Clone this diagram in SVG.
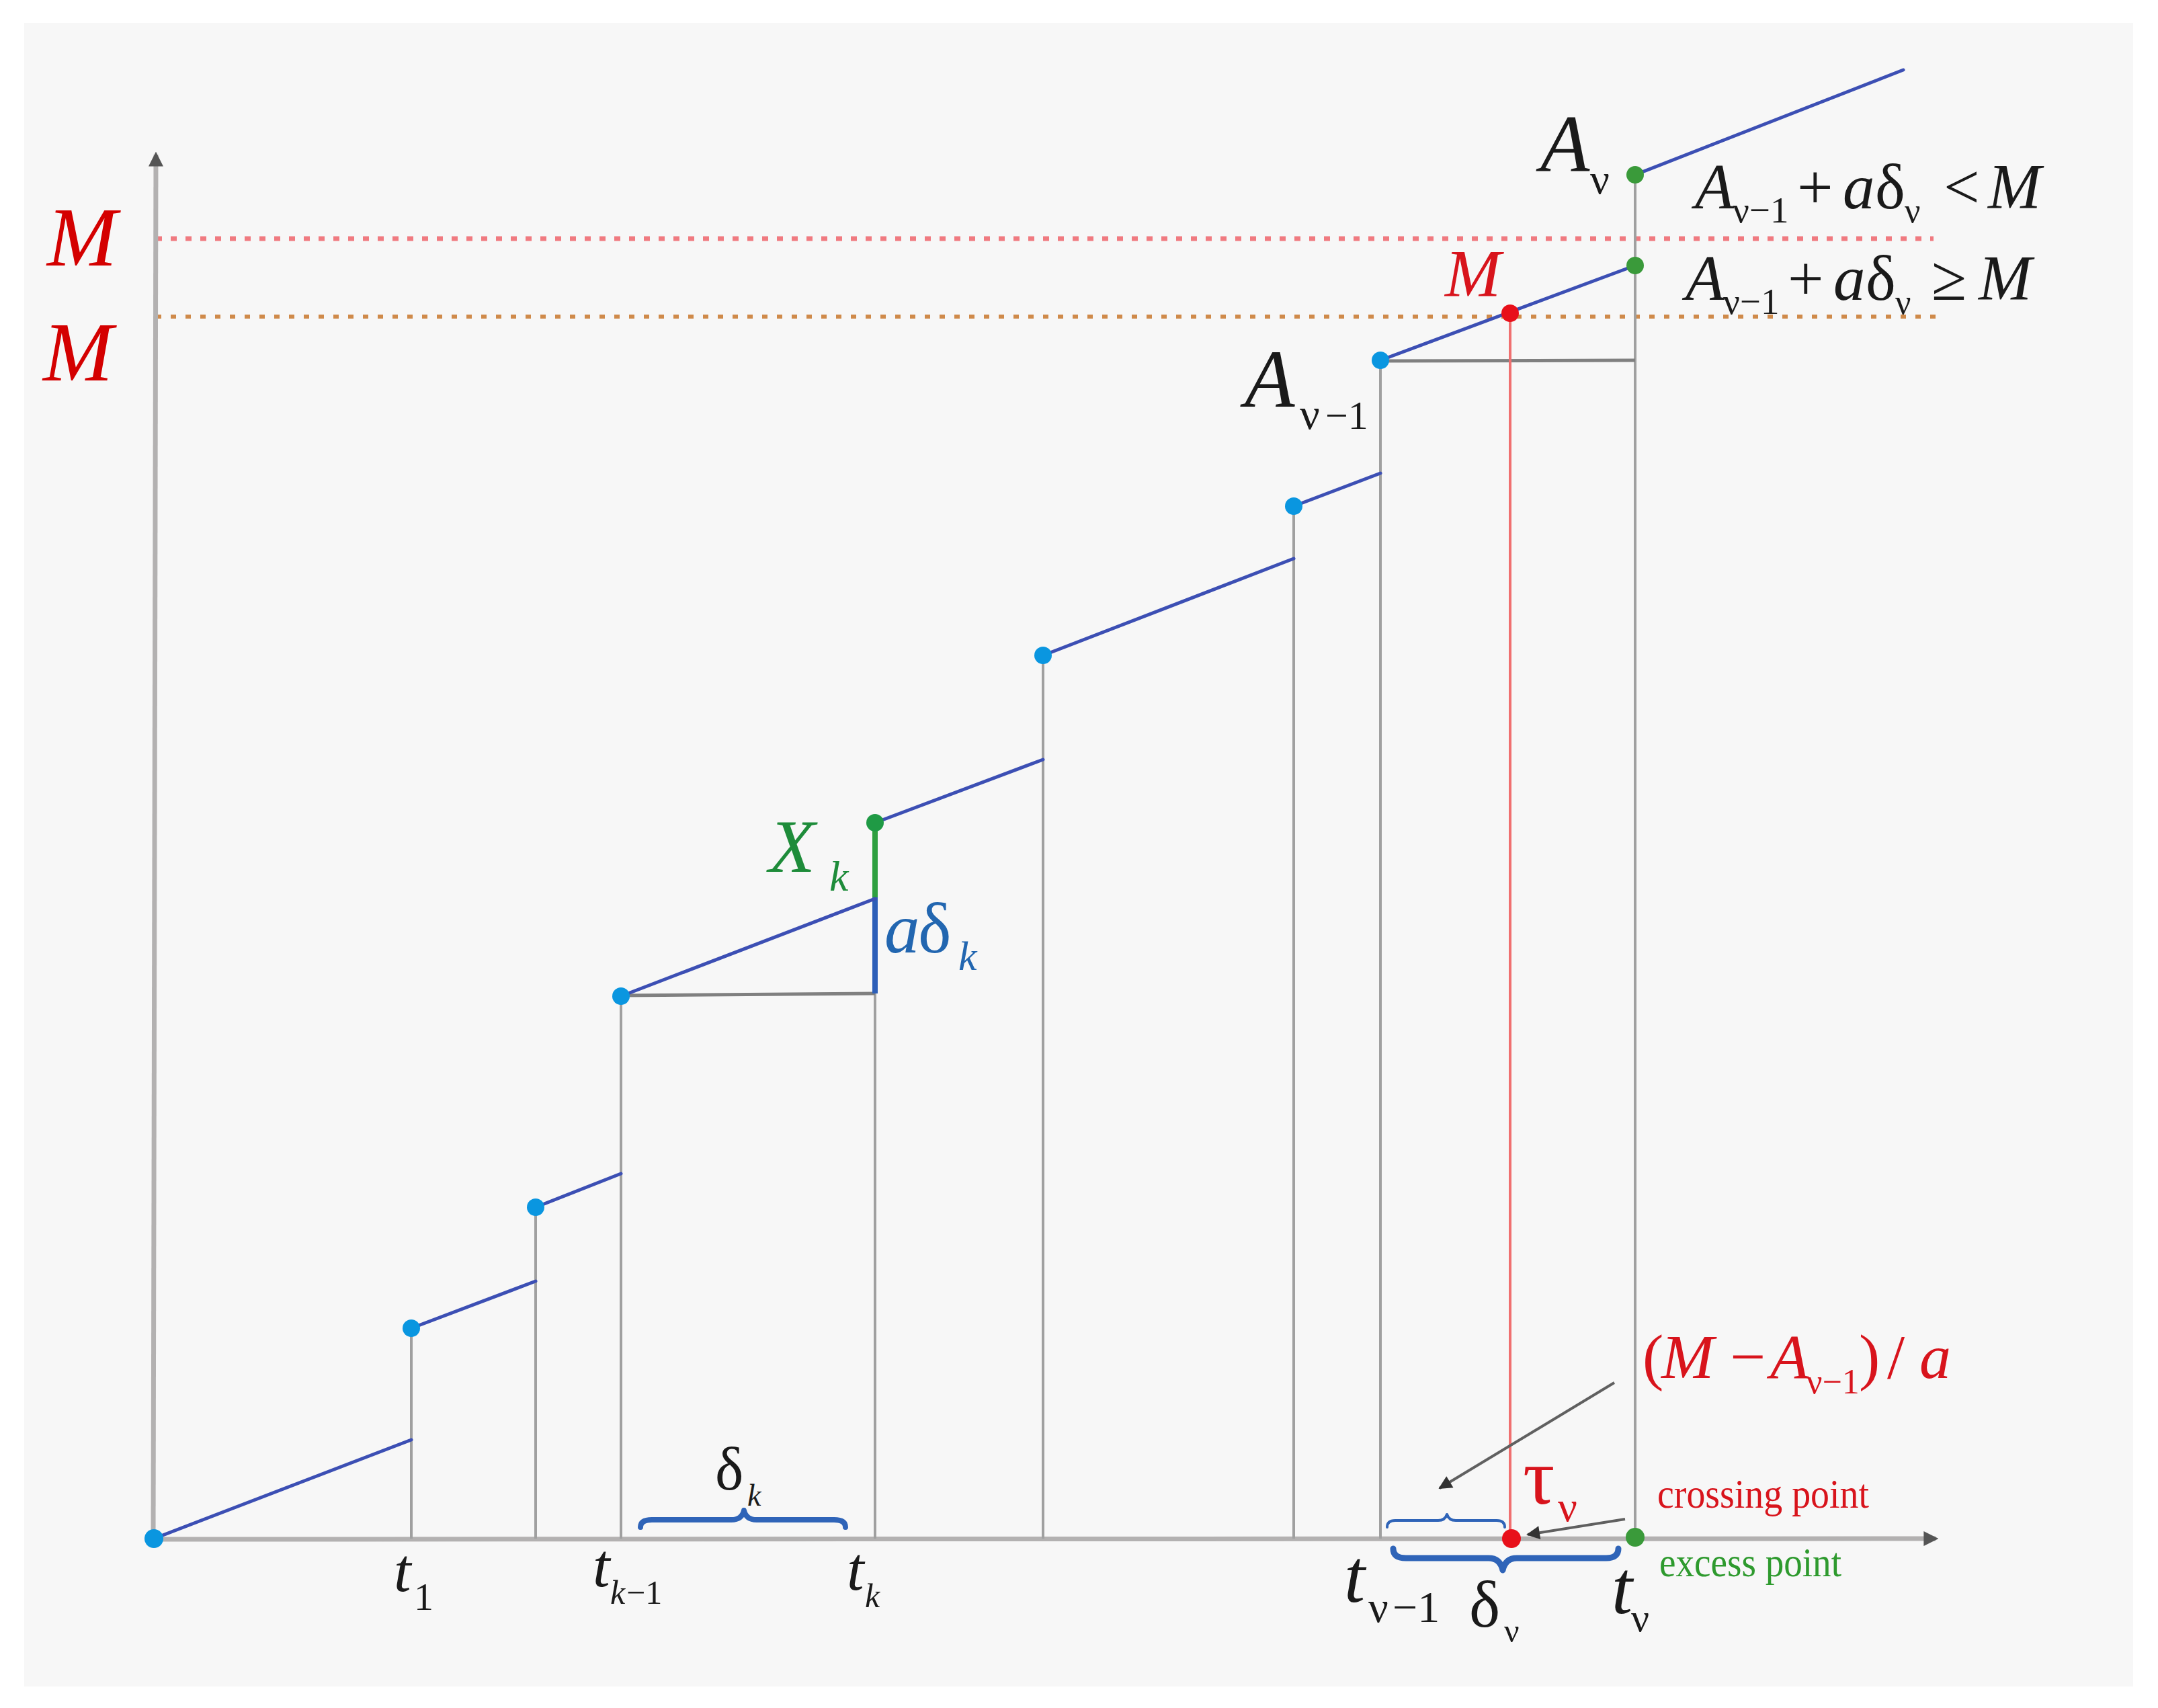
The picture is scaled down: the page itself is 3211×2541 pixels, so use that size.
<svg xmlns="http://www.w3.org/2000/svg" width="3211" height="2541" viewBox="0 0 3211 2541">
<style>
.s{font-family:"Liberation Serif","Times New Roman",serif}
.i{font-style:italic}
.k{fill:#1a1a1a}
.r{fill:#d8141c}
.g{fill:#1e8c3a}
.b{fill:#2266b0}
.grid{stroke:#a0a0a0;stroke-width:4;fill:none}
.hz{stroke:#808080;stroke-width:5;fill:none}
.seg{stroke:#3c4fb4;stroke-width:5;fill:none;stroke-linecap:round}
.ax{stroke:#b3b1b1;stroke-width:7;fill:none}
.dotb{fill:#0a96e0}
.dotg{fill:#3a9a3a}
.dotr{fill:#e8101a}
.brace{fill:none;stroke:#2f64b8;stroke-linecap:round;stroke-linejoin:round}
.ptr{stroke:#606060;stroke-width:4;fill:none}
</style>
<defs>
<marker id="axhead" viewBox="0 0 10 10" refX="8" refY="5" markerWidth="22" markerHeight="22" markerUnits="userSpaceOnUse" orient="auto">
<path d="M0,0 L10,5 L0,10 z" fill="#555"/>
</marker>
<marker id="ptrhead" viewBox="0 0 10 10" refX="9" refY="5" markerWidth="24" markerHeight="20" markerUnits="userSpaceOnUse" orient="auto">
<path d="M0,0 L10,5 L0,10 z" fill="#333"/>
</marker>
</defs>
<rect x="0" y="0" width="3211" height="2541" fill="#ffffff"/>
<rect x="36" y="34" width="3138" height="2475" fill="#f7f7f7"/>

<g id="thresholds">
<line x1="232" y1="355" x2="2877" y2="355" stroke="#f07a80" stroke-width="7" stroke-dasharray="9 13"/>
<line x1="232" y1="471" x2="2884" y2="471" stroke="#cf8a4a" stroke-width="6" stroke-dasharray="8 14"/>
</g>

<g id="axes">
<line class="ax" x1="228" y1="2290" x2="2880" y2="2289" marker-end="url(#axhead)"/>
<line class="ax" x1="228" y1="2290" x2="232" y2="230" marker-end="url(#axhead)"/>
</g>

<g id="verticals">
<line class="grid" x1="612" y1="2289" x2="612" y2="1976"/>
<line class="grid" x1="797" y1="2289" x2="797" y2="1796"/>
<line class="grid" x1="924" y1="2289" x2="924" y2="1482"/>
<line class="grid" x1="1302" y1="2289" x2="1302" y2="1478"/>
<line class="grid" x1="1552" y1="2289" x2="1552" y2="975"/>
<line class="grid" x1="1925" y1="2289" x2="1925" y2="753"/>
<line class="grid" x1="2054" y1="2289" x2="2054" y2="536"/>
<line class="grid" x1="2433" y1="2289" x2="2433" y2="260"/>
<line class="hz" x1="924" y1="1481" x2="1302" y2="1478"/>
<line class="hz" x1="2054" y1="537" x2="2433" y2="536"/>
<line x1="2247" y1="466" x2="2247" y2="2289" stroke="#f07070" stroke-width="4"/>
<line x1="1302" y1="1335" x2="1302" y2="1478" stroke="#2d5fb8" stroke-width="8"/>
<line x1="1302" y1="1226" x2="1302" y2="1335" stroke="#2ea040" stroke-width="8"/>
</g>

<g id="segments">
<line class="seg" x1="229" y1="2289" x2="612" y2="2142"/>
<line class="seg" x1="612" y1="1976" x2="797" y2="1906"/>
<line class="seg" x1="797" y1="1796" x2="924" y2="1746"/>
<line class="seg" x1="924" y1="1482" x2="1302" y2="1337"/>
<line class="seg" x1="1302" y1="1224" x2="1552" y2="1130"/>
<line class="seg" x1="1552" y1="975" x2="1925" y2="831"/>
<line class="seg" x1="1925" y1="753" x2="2054" y2="704"/>
<line class="seg" x1="2054" y1="536" x2="2433" y2="395"/>
<line class="seg" x1="2433" y1="260" x2="2832" y2="104"/>
</g>

<g id="points">
<circle class="dotb" cx="229" cy="2289" r="14"/>
<circle class="dotb" cx="612" cy="1976" r="13"/>
<circle class="dotb" cx="797" cy="1796" r="13"/>
<circle class="dotb" cx="924" cy="1482" r="13"/>
<circle class="dotb" cx="1552" cy="975" r="13"/>
<circle class="dotb" cx="1925" cy="753" r="13"/>
<circle class="dotb" cx="2054" cy="536" r="13"/>
<circle cx="1302" cy="1224" r="13" fill="#1f9a45"/>
<circle class="dotg" cx="2433" cy="395" r="13"/>
<circle class="dotg" cx="2433" cy="260" r="13"/>
<circle class="dotg" cx="2433" cy="2287" r="14"/>
<circle class="dotr" cx="2247" cy="466" r="13"/>
<circle class="dotr" cx="2249" cy="2289" r="14"/>
</g>

<g id="braces">
<path class="brace" stroke-width="8" d="M953,2272 Q953,2261 970,2261 L1088,2261 Q1104,2261 1107,2247 Q1110,2261 1126,2261 L1241,2261 Q1258,2261 1258,2272"/>
<path class="brace" stroke="#6a98dc" stroke-width="4" d="M2064,2272 Q2064,2262 2076,2262 L2140,2262 Q2150,2262 2153,2253 Q2156,2262 2166,2262 L2227,2262 Q2239,2262 2239,2272"/>
<path class="brace" stroke-width="9" d="M2073,2304 Q2073,2318 2092,2318 L2215,2318 Q2232,2318 2236,2336 Q2240,2318 2257,2318 L2390,2318 Q2408,2318 2408,2304"/>
</g>

<g id="pointers">
<line class="ptr" x1="2402" y1="2057" x2="2142" y2="2214" marker-end="url(#ptrhead)"/>
<line class="ptr" x1="2418" y1="2260" x2="2273" y2="2283" marker-end="url(#ptrhead)"/>
</g>

<g id="labels">
<text class="s i" x="70" y="395" font-size="125" fill="#d40000">M</text>
<text class="s i" x="64" y="566" font-size="125" fill="#d40000">M</text>
<text class="s i r" x="2150" y="440" font-size="100">M</text>

<text class="s k"><tspan class="i" x="2292" y="255" font-size="120">A</tspan><tspan x="2366" y="288" font-size="64">ν</tspan></text>

<text class="s k"><tspan class="i" x="2522" y="310" font-size="95">A</tspan><tspan x="2578" y="331" font-size="55">ν−1</tspan><tspan x="2674" y="310" font-size="95">+</tspan><tspan class="i" x="2742" y="310" font-size="95">a</tspan><tspan x="2790" y="310" font-size="95">δ</tspan><tspan x="2834" y="331" font-size="52">ν</tspan><tspan x="2892" y="310" font-size="95">&lt;</tspan><tspan class="i" x="2958" y="310" font-size="95">M</tspan></text>

<text class="s k"><tspan class="i" x="2508" y="446" font-size="95">A</tspan><tspan x="2564" y="467" font-size="55">ν−1</tspan><tspan x="2660" y="446" font-size="95">+</tspan><tspan class="i" x="2728" y="446" font-size="95">a</tspan><tspan x="2776" y="446" font-size="95">δ</tspan><tspan x="2820" y="467" font-size="52">ν</tspan><tspan x="2874" y="446" font-size="95">≥</tspan><tspan class="i" x="2944" y="446" font-size="95">M</tspan></text>

<text class="s k"><tspan class="i" x="1852" y="605" font-size="122">A</tspan><tspan x="1934" y="638" font-size="66">ν</tspan><tspan x="1972" y="638" font-size="60">−1</tspan></text>

<text class="s g"><tspan class="i" x="1144" y="1297" font-size="113">X</tspan><tspan class="i" x="1234" y="1325" font-size="64">k</tspan></text>
<text class="s b"><tspan class="i" x="1316" y="1417" font-size="105">a</tspan><tspan x="1366" y="1417" font-size="105">δ</tspan><tspan class="i" x="1426" y="1443" font-size="62">k</tspan></text>

<text class="s k"><tspan x="1064" y="2216" font-size="90">δ</tspan><tspan class="i" x="1112" y="2240" font-size="46">k</tspan></text>

<text class="s k"><tspan class="i" x="586" y="2367" font-size="92">t</tspan><tspan x="616" y="2395" font-size="58">1</tspan></text>
<text class="s k"><tspan class="i" x="882" y="2360" font-size="92">t</tspan><tspan class="i" x="908" y="2386" font-size="50">k</tspan><tspan x="932" y="2386" font-size="50">−1</tspan></text>
<text class="s k"><tspan class="i" x="1260" y="2365" font-size="92">t</tspan><tspan class="i" x="1287" y="2391" font-size="50">k</tspan></text>
<text class="s k"><tspan class="i" x="2000" y="2383" font-size="112">t</tspan><tspan x="2036" y="2413" font-size="66">ν</tspan><tspan x="2072" y="2413" font-size="66">−1</tspan></text>
<text class="s k"><tspan x="2186" y="2420" font-size="98">δ</tspan><tspan x="2238" y="2443" font-size="50">ν</tspan></text>
<text class="s k"><tspan class="i" x="2398" y="2400" font-size="112">t</tspan><tspan x="2427" y="2427" font-size="60">ν</tspan></text>

<text class="s r"><tspan x="2444" y="2050" font-size="94">(</tspan><tspan class="i" x="2472" y="2050" font-size="94">M</tspan><tspan x="2574" y="2050" font-size="94">−</tspan><tspan class="i" x="2634" y="2050" font-size="94">A</tspan><tspan x="2688" y="2073" font-size="52">ν−1</tspan><tspan x="2766" y="2050" font-size="94">)</tspan><tspan x="2808" y="2050" font-size="94">/</tspan><tspan class="i" x="2856" y="2050" font-size="94">a</tspan></text>

<text class="s r"><tspan x="2266" y="2237" font-size="118">τ</tspan><tspan x="2318" y="2263" font-size="64">ν</tspan></text>
<text class="s r" x="2466" y="2243" font-size="62" textLength="315" lengthAdjust="spacingAndGlyphs">crossing point</text>
<text class="s" x="2469" y="2345" font-size="62" fill="#2e9a2e" textLength="271" lengthAdjust="spacingAndGlyphs">excess point</text>
</g>
</svg>
